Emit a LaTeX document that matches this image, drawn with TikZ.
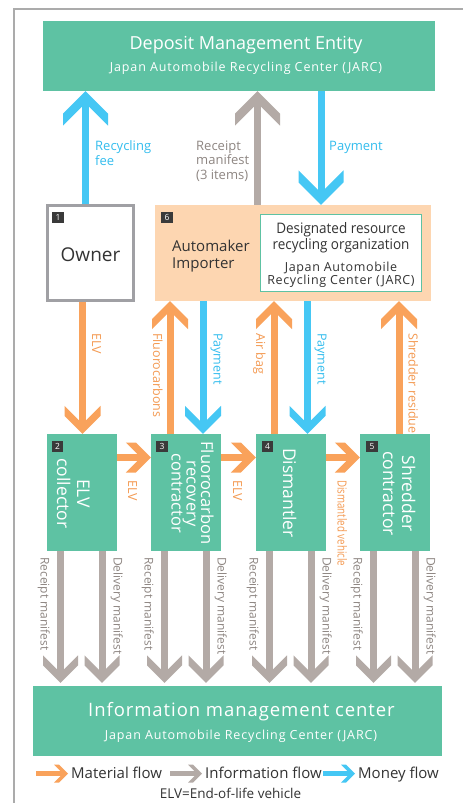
\documentclass[tikz,border=0pt]{standalone}
\usepackage{fontspec}
\setmainfont{Open Sans}
\newfontfamily\spacedfont[LetterSpace=7]{Open Sans}
\newfontfamily\spacedfontb[LetterSpace=5]{Open Sans}
\newfontfamily\condfont[FakeStretch=0.78]{Open Sans}
\newfontfamily\narrowfont[FakeStretch=0.93]{Open Sans}
\usetikzlibrary{arrows.meta}
\definecolor{jteal}{HTML}{5EC2A3}
\definecolor{jorange}{HTML}{F9A25B}
\definecolor{jotext}{HTML}{F49A52}
\definecolor{jblue}{HTML}{45C7F4}
\definecolor{jbtext}{HTML}{33BDEE}
\definecolor{jgrey}{HTML}{B3AAA6}
\definecolor{jgtext}{HTML}{8E8682}
\definecolor{jpeach}{HTML}{FDD6B1}
\definecolor{jbadge}{HTML}{3A3A3A}
\definecolor{jframe}{HTML}{ABABAB}
\definecolor{jowner}{HTML}{A0A0A4}
\definecolor{jdark}{HTML}{333333}

\pgfdeclarearrow{
  name = Chev,
  defaults = {length = 10pt, width = 36pt},
  parameters = {\the\pgfarrowlength,\the\pgfarrowwidth},
  setup code = {
    \pgfarrowssettipend{0pt}
    \pgfarrowssetlineend{-\pgfarrowlength}
    \pgfarrowssetbackend{-\pgfarrowwidth}
    \pgfarrowssavethe\pgfarrowlength
    \pgfarrowssavethe\pgfarrowwidth
  },
  drawing code = {
    \pgfpathmoveto{\pgfpointorigin}
    \pgfpathlineto{\pgfpoint{-0.5*\pgfarrowwidth}{0.5*\pgfarrowwidth}}
    \pgfpathlineto{\pgfpoint{-0.5*\pgfarrowwidth-\pgfarrowlength}{0.5*\pgfarrowwidth}}
    \pgfpathlineto{\pgfpoint{-\pgfarrowlength}{0pt}}
    \pgfpathlineto{\pgfpoint{-0.5*\pgfarrowwidth-\pgfarrowlength}{-0.5*\pgfarrowwidth}}
    \pgfpathlineto{\pgfpoint{-0.5*\pgfarrowwidth}{-0.5*\pgfarrowwidth}}
    \pgfpathclose
    \pgfusepathqfill
  }
}

\tikzset{
  rowbox/.style={fill=jteal, inner sep=0pt, minimum width=70pt, minimum height=117pt},
  badge/.style={fill=jbadge, text=white, minimum size=11.5pt, inner sep=0pt, font=\fontsize{8.5}{9}\selectfont},
  boxtxt/.style={text=white, inner sep=0pt, rotate=-90, anchor=base, font=\fontsize{17.5}{20}\selectfont},
  fluotxt/.style={text=white, inner sep=0pt, rotate=-90, anchor=base, font=\fontsize{16.5}{18}\selectfont},
  vlbl/.style={inner sep=0pt, rotate=-90, anchor=base west, font=\fontsize{12.5}{14}\selectfont},
  blbl/.style={inner sep=0pt, rotate=-90, anchor=base west, text=jgtext, font=\fontsize{12}{14}\selectfont},
  hlbl/.style={inner sep=0pt, anchor=base west, font=\fontsize{13}{15}\selectfont},
  bigA/.style={line width=7pt, -{Chev[length=12pt,width=45pt]}},
  midA/.style={line width=7pt, -{Chev[length=10pt,width=36pt]}},
  horA/.style={line width=7.5pt, color=jorange, -{Chev[length=10pt,width=30pt]}},
  botA/.style={line width=7pt, color=jgrey, -{Chev[length=10pt,width=35pt]}, shorten >=3pt},
  legA/.style={line width=5pt, -{Chev[length=5pt,width=18pt]}},
  oc/.style={color=jorange}, bc/.style={color=jblue}, gc/.style={color=jgrey},
}

\begin{document}
\begin{tikzpicture}[x=1pt,y=-1pt]
\useasboundingbox (0,0) rectangle (463,803);
\fill[white] (0,0) rectangle (463,803);
% frame
\draw[jframe, line width=1.5pt] (14,803) -- (14,9) -- (463,9);

% column coordinates
\coordinate (xRF) at (85.5,0);
\coordinate (xRM) at (257.5,0);
\coordinate (xPT) at (321,0);
\coordinate (xELV) at (82.5,0);
\coordinate (xFlu) at (170,0);
\coordinate (xPay1) at (203,0);
\coordinate (xAir) at (274,0);
\coordinate (xPay2) at (307.5,0);
\coordinate (xShr) at (399,0);
\coordinate (yH) at (0,457.5);
\coordinate (r2) at (60.5,0);  \coordinate (d2) at (102,0);
\coordinate (r3) at (164.5,0); \coordinate (d3) at (206,0);
\coordinate (r4) at (269.5,0); \coordinate (d4) at (311,0);
\coordinate (r5) at (373.5,0); \coordinate (d5) at (415,0);

% top box
\node[fill=jteal, minimum width=392pt, minimum height=70pt, inner sep=0pt] (top) at (239,56) {};
\node[anchor=base, text=white, inner sep=0pt, font=\fontsize{18}{20}\selectfont] (topt) at (246,49.5) {Deposit Management Entity};
\node[anchor=base, text=white, inner sep=0pt, font=\spacedfont\fontsize{12.5}{14}\selectfont] (tops) at (246,71.5) {Japan Automobile Recycling Center (JARC)};

% owner
\node[draw=jowner, line width=3pt, fill=white, minimum width=86pt, minimum height=95pt, inner sep=0pt] (owner) at (90.5,253) {};
\node[anchor=base, text=jdark, inner sep=0pt, font=\fontsize{19}{21}\selectfont] (ownert) at (90.5,261.5) {Owner};
\node[badge] (b1) at (58,217.5) {1};

% box 6
\node[fill=jpeach, minimum width=276pt, minimum height=96pt, inner sep=0pt] (org) at (293,253) {};
\node[badge] (b6) at (167,217.5) {6};
\node[hlbl, text=jdark, font=\fontsize{15}{17}\selectfont] (am1) at (172,251.5) {Automaker};
\node[hlbl, text=jdark, font=\fontsize{15}{17}\selectfont] (am2) at (172,268) {Importer};
\node[draw=jteal, line width=1.2pt, fill=white, minimum width=161pt, minimum height=77pt, inner sep=0pt] (dro) at (341,253) {};
\node[anchor=base, text=jdark, inner sep=0pt, font=\narrowfont\fontsize{14.5}{16}\selectfont] (dro1) at (341,233.3) {Designated resource};
\node[anchor=base, text=jdark, inner sep=0pt, font=\narrowfont\fontsize{14.5}{16}\selectfont] (dro2) at (341,249.5) {recycling organization};
\node[anchor=base, text=jdark, inner sep=0pt, font=\spacedfontb\fontsize{12.5}{14}\selectfont] (dro3) at (341,271) {Japan Automobile};
\node[anchor=base, text=jdark, inner sep=0pt, font=\spacedfontb\fontsize{12.5}{14}\selectfont] (dro4) at (341,284.5) {Recycling Center (JARC)};

% row boxes
\node[rowbox] (elv) at (82,492.5) {};
\node[rowbox] (flu) at (186,492.5) {};
\node[rowbox] (dis) at (291,492.5) {};
\node[rowbox] (shr) at (395,492.5) {};
\node[badge] (b2) at (57.5,446.5) {2};
\node[badge] (b3) at (162,446.5) {3};
\node[badge] (b4) at (267.5,446.5) {4};
\node[badge] (b5) at (372,446.5) {5};
\node[boxtxt] (t2a) at (77,493.5) {ELV};
\node[boxtxt] (t2b) at (57,493.5) {collector};
\node[fluotxt] (t3a) at (201,493) {Fluorocarbon};
\node[fluotxt] (t3b) at (186.5,493.5) {recovery};
\node[fluotxt] (t3c) at (171.5,493.5) {contractor};
\node[boxtxt] (t4a) at (283,493) {Dismantler};
\node[boxtxt] (t5a) at (402,493.5) {Shredder};
\node[boxtxt] (t5b) at (383,493.5) {contractor};

% bottom box
\node[fill=jteal, minimum width=409pt, minimum height=70pt, inner sep=0pt] (info) at (237.5,721) {};
\node[anchor=base, text=white, inner sep=0pt, font=\spacedfontb\fontsize{18.5}{20}\selectfont] (infot) at (241.5,716.7) {Information management center};
\node[anchor=base, text=white, inner sep=0pt, font=\spacedfont\fontsize{12.5}{14}\selectfont] (infos) at (241,739) {Japan Automobile Recycling Center (JARC)};

% top arrows
\draw[bigA, bc] (owner.north -| xRF) -- (top.south -| xRF);
\draw[bigA, gc] (org.north -| xRM) -- (top.south -| xRM);
\draw[bigA, bc] (top.south -| xPT) -- (org.north -| xPT);
\node[hlbl, text=jbtext] (lrf1) at (95,150) {Recycling};
\node[hlbl, text=jbtext] (lrf2) at (95,165) {fee};
\node[hlbl, text=jgtext] (lrm1) at (196,150) {Receipt};
\node[hlbl, text=jgtext] (lrm2) at (196,164.5) {manifest};
\node[hlbl, text=jgtext] (lrm3) at (196,179) {(3 items)};
\node[hlbl, text=jbtext] (lpt) at (329,150) {Payment};

% middle arrows
\draw[midA, oc] (owner.south -| xELV) -- (elv.north -| xELV);
\draw[midA, oc] (flu.north -| xFlu) -- (org.south -| xFlu);
\draw[midA, bc] (org.south -| xPay1) -- (flu.north -| xPay1);
\draw[midA, oc] (dis.north -| xAir) -- (org.south -| xAir);
\draw[midA, bc] (org.south -| xPay2) -- (dis.north -| xPay2);
\draw[midA, oc] (shr.north -| xShr) -- (org.south -| xShr);
\node[vlbl, text=jotext] (lm1) at (92,333) {ELV};
\node[vlbl, text=jotext] (lm2) at (153,333) {Fluorocarbons};
\node[vlbl, text=jbtext] (lm3) at (213.5,333) {Payment};
\node[vlbl, text=jotext] (lm4) at (256,333) {Air bag};
\node[vlbl, text=jbtext] (lm5) at (317.5,333) {Payment};
\node[vlbl, text=jotext] (lm6) at (408.5,333) {Shredder residue};

% horizontal arrows
\draw[horA] (elv.east |- yH) -- (flu.west |- yH);
\draw[horA] (flu.east |- yH) -- (dis.west |- yH);
\draw[horA] (dis.east |- yH) -- (shr.west |- yH);
\node[vlbl, text=jotext] (lh1) at (128,480) {ELV};
\node[vlbl, text=jotext] (lh2) at (233,480) {ELV};
\node[vlbl, text=jotext, font=\condfont\fontsize{12.5}{14}\selectfont] (lh3) at (337.5,480) {Dismantled vehicle};

% bottom arrows
\draw[botA] (elv.south -| r2) -- (info.north -| r2);
\draw[botA] (elv.south -| d2) -- (info.north -| d2);
\draw[botA] (flu.south -| r3) -- (info.north -| r3);
\draw[botA] (flu.south -| d3) -- (info.north -| d3);
\draw[botA] (dis.south -| r4) -- (info.north -| r4);
\draw[botA] (dis.south -| d4) -- (info.north -| d4);
\draw[botA] (shr.south -| r5) -- (info.north -| r5);
\draw[botA] (shr.south -| d5) -- (info.north -| d5);
\node[blbl] (lb1) at (40.5,557) {Receipt manifest};
\node[blbl] (lb2) at (113.5,557) {Delivery manifest};
\node[blbl] (lb3) at (144.5,557) {Receipt manifest};
\node[blbl] (lb4) at (217.5,557) {Delivery manifest};
\node[blbl] (lb5) at (249.5,557) {Receipt manifest};
\node[blbl] (lb6) at (322.5,557) {Delivery manifest};
\node[blbl] (lb7) at (353.5,557) {Receipt manifest};
\node[blbl] (lb8) at (426.5,557) {Delivery manifest};

% legend
\coordinate (lo1) at (36,773.5);  \coordinate (lo2) at (68,773.5);
\coordinate (lg1) at (170,773.5); \coordinate (lg2) at (202,773.5);
\coordinate (lb1c) at (323,773.5); \coordinate (lb2c) at (355,773.5);
\draw[legA, oc] (lo1) -- (lo2);
\draw[legA, gc] (lg1) -- (lg2);
\draw[legA, bc] (lb1c) -- (lb2c);
\node[hlbl, text=jdark, font=\fontsize{15}{17}\selectfont] (lmat) at (71,778.5) {Material flow};
\node[hlbl, text=jdark, font=\fontsize{15}{17}\selectfont] (linf) at (205,778.5) {Information flow};
\node[hlbl, text=jdark, font=\fontsize{15}{17}\selectfont] (lmon) at (358,778.5) {Money flow};
\node[anchor=base, text=jdark, inner sep=0pt, font=\fontsize{13.5}{15}\selectfont] (elvdef) at (230.5,798.5) {ELV=End-of-life vehicle};
\end{tikzpicture}
\end{document}
